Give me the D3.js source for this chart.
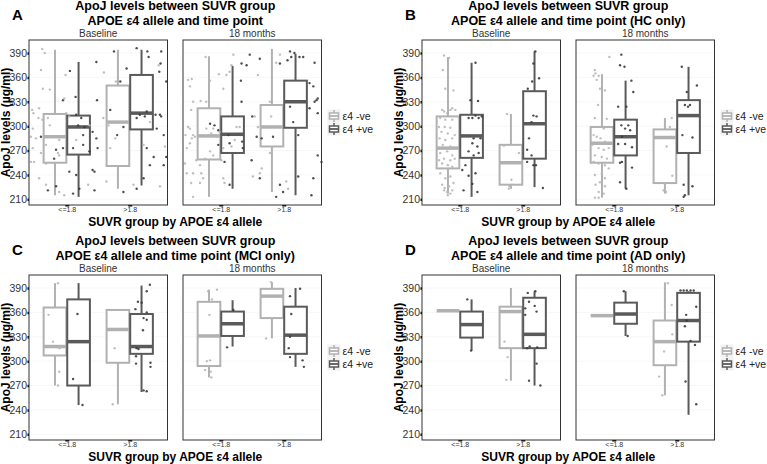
<!DOCTYPE html>
<html>
<head>
<meta charset="utf-8">
<script src="https://cdn.jsdelivr.net/npm/d3@7"></script>
<style>
  body { margin: 0; background: #fff; }
  text { font-family: "Liberation Sans", Arial, sans-serif; }
</style>
</head>
<body>
<svg id="chart" width="767" height="464"></svg>
<script>
var timepoints = ["Baseline", "18 months"];
var suvrGroups = ["<=1.8", ">1.8"];
var e4Groups = ["ε4 -ve", "ε4 +ve"];
var yTicks = [210, 240, 270, 300, 330, 360, 390];

// box stats [lower whisker, q1, median, q3, upper whisker]
// order: baseline <=1.8 -ve, +ve, >1.8 -ve, +ve, then 18 months same
var boxA = [
  [215, 255, 287, 315, 394], [213, 265, 299, 313, 379],
  [223, 251, 305, 350, 394], [227, 296, 316, 363, 394],
  [213, 259, 288, 322, 386], [223, 267, 290, 312, 374],
  [219, 275, 299, 326, 395], [215, 298, 330, 356, 389]
];
var boxB = [
  [217, 248, 273, 312, 385], [213, 261, 288, 314, 378],
  [223, 228, 255, 277, 315], [225, 260, 303, 343, 392],
  [212, 255, 279, 299, 364], [223, 264, 287, 308, 356],
  [217, 230, 286, 296, 310], [215, 267, 313, 332, 373]
];
var boxC = [
  [270, 307, 318, 366, 396], [246, 270, 324, 376, 396],
  [247, 298, 339, 363, 364], [262, 309, 318, 358, 393],
  [280, 294, 331, 373, 388], [318, 331, 346, 361, 375],
  [328, 353, 380, 389, 397], [293, 309, 332, 367, 390]
];
var boxD = [
  [362, 362, 362, 362, 362], [313, 329, 345, 361, 376],
  [276, 316, 361, 367, 390], [270, 316, 333, 378, 386],
  [356, 356, 356, 356, 356], [331, 346, 358, 372, 386],
  [258, 295, 324, 350, 397], [234, 324, 350, 384, 386]
];

// points: [suvr group, e4 group, jitter (category units), ApoJ]
var ptsA_base = [
  [0,0,-0.39,395],[0,0,-0.35,390],[0,0,-0.41,369],[0,0,-0.02,363],[0,1,0.05,368],[0,0,-0.38,346],
  [0,0,-0.27,345],[0,1,-0.06,332],[0,0,-0.04,334],[0,1,0.14,336],[0,1,0.47,379],[0,1,0.48,332],
  [1,0,-0.41,366],[1,1,-0.25,392],[1,1,-0.15,355],[1,0,-0.22,355],[1,1,-0.05,371],[1,1,0.11,396],
  [1,1,0.28,392],[1,1,0.3,385],[1,1,0.5,392],[1,1,0.49,377],[1,0,0.46,375],[1,1,0.47,367],
  [1,1,0.58,355],[0,0,-0.55,320],[0,0,-0.44,322],[0,0,-0.53,316],[0,0,-0.45,310],[0,0,-0.54,297],
  [0,0,-0.57,287],[0,0,-0.49,285],[0,1,-0.41,287],[0,0,-0.39,308],[0,0,-0.3,310],[0,0,-0.27,301],
  [0,0,-0.33,277],[0,0,-0.41,267],[0,0,-0.54,273],[0,0,-0.57,256],[0,0,-0.52,256],[0,0,-0.44,236],
  [0,0,-0.33,228],[0,1,-0.3,221],[0,1,-0.17,226],[0,0,-0.12,219],[0,0,-0.04,215],[0,1,0.1,217],
  [0,1,0.2,223],[0,1,0.15,240],[0,1,0.04,244],[0,1,0.41,246],[0,1,0.44,244],[0,1,0.44,221],
  [0,0,0.34,228],[0,1,0.47,285],[0,1,0.41,293],[0,1,0.49,273],[1,0,-0.37,232],[1,0,-0.23,285],
  [1,0,-0.31,273],[1,1,-0.2,289],[1,1,-0.1,299],[1,1,0.11,310],[1,1,0.16,314],[1,1,0.24,312],
  [1,1,0.27,318],[1,0,0.32,305],[1,1,0.41,314],[1,1,0.48,314],[1,1,0.5,312],[1,1,0.43,297],
  [1,1,0.54,289],[1,0,0.22,277],[1,1,0.27,273],[1,1,0.38,262],[1,1,0.32,252],[1,1,0.54,252],
  [1,1,0.58,262],[1,0,0.56,275],[1,0,0.06,228],[1,1,-0.1,219],[1,1,0.11,223],[1,1,0.22,236],
  [1,0,0.48,226],[0,0,-0.01,316],[0,0,0.04,312],[0,1,0.15,314],[0,1,0.23,310],[0,1,0.18,301],
  [0,1,0.28,299],[0,0,0.36,301],[0,1,0.26,289],[0,0,0.15,283],[0,1,0.1,273],[0,0,-0.12,283],
  [0,1,-0.06,273],[0,1,-0.17,271],[0,0,-0.14,267],[0,1,-0.2,260],[0,0,-0.12,264],[0,1,0.26,277],
  [0,1,0.36,269],[0,0,-0.33,254],[1,0,-0.34,301],[1,0,-0.42,310],[1,1,-0.31,320]
];
var ptsA_18m = [
  [0,0,-0.24,385],[0,0,0.2,388],[0,1,0.46,388],[1,1,-0.38,383],[0,0,0.17,375],[0,0,0.14,367],
  [0,1,0.33,377],[0,0,0.09,363],[0,0,-0.03,364],[0,1,0.41,375],[1,0,-0.41,363],[1,1,-0.06,377],
  [1,0,-0.12,378],[1,1,0.1,392],[1,1,0.12,385],[1,1,0.06,381],[1,1,0.17,390],[1,1,0.25,385],
  [1,1,0.31,385],[1,1,0.49,378],[1,0,-0.06,388],[0,0,-0.52,357],[0,0,-0.46,358],[0,0,-0.49,349],
  [0,0,-0.17,356],[0,0,0.04,346],[0,1,0.32,356],[1,1,0.41,353],[1,1,0.47,349],[1,1,0.54,334],
  [1,1,0.52,332],[1,1,0.49,330],[1,1,0.41,322],[1,1,0.54,316],[1,1,0.1,324],[0,1,0.33,330],
  [0,0,-0.44,330],[0,0,-0.32,331],[0,0,-0.23,330],[0,0,-0.47,320],[1,0,-0.22,330],[1,0,-0.46,312],
  [1,1,-0.5,312],[0,0,-0.52,299],[0,0,-0.49,297],[0,0,-0.56,289],[0,0,-0.44,289],[0,0,-0.41,287],
  [0,0,-0.46,285],[0,0,-0.49,279],[0,0,-0.54,273],[0,1,-0.17,303],[0,1,-0.1,301],[0,0,-0.12,297],
  [0,0,-0.23,297],[0,1,-0.04,295],[0,0,-0.02,293],[0,0,-0.15,291],[0,0,-0.07,287],[0,0,0.25,299],
  [0,0,0.3,299],[0,1,0.12,289],[0,0,0.22,283],[0,1,0.14,279],[0,1,0.34,281],[0,1,0.35,273],
  [0,0,0.17,275],[0,1,-0.04,277],[0,0,0.04,273],[0,0,-0.17,269],[0,1,0.06,256],[0,0,0.01,258],
  [0,0,-0.12,264],[0,0,-0.25,260],[0,0,-0.39,258],[0,0,-0.33,252],[0,0,-0.57,254],[1,1,-0.35,285],
  [1,1,-0.43,287],[1,0,-0.41,299],[1,1,-0.17,287],[1,0,-0.2,312],[1,1,0.15,305],[1,1,0.23,289],
  [1,1,0.54,264],[1,1,0.6,256],[0,1,0.49,258],[1,0,-0.35,248],[1,0,-0.22,267],[1,0,-0.38,242],
  [0,0,-0.54,242],[0,0,-0.44,242],[0,0,-0.31,242],[0,0,-0.28,236],[0,0,0.04,236],[0,0,0.06,230],
  [1,0,-0.49,238],[1,1,-0.38,236],[0,1,0.14,228],[0,0,-0.47,230],[0,0,-0.33,230],[0,0,-0.44,213],
  [1,1,-0.12,213],[1,1,-0.06,228],[1,1,-0.01,219],[1,0,0.07,223],[1,0,0.04,232],[1,1,0.23,238],
  [1,1,0.47,236],[1,1,0.44,215]
];
var ptsB_base = [
  [0,0,-0.25,387],[0,0,-0.17,384],[0,0,-0.27,369],[0,0,-0.23,346],[0,0,-0.1,344],[0,0,-0.28,320],
  [0,0,-0.25,318],[0,0,-0.15,320],[0,0,-0.12,322],[0,0,-0.07,320],[0,0,-0.2,316],[0,0,-0.31,310],
  [0,0,-0.23,308],[0,0,-0.12,308],[0,0,-0.33,299],[0,0,-0.24,299],[0,0,-0.15,298],[0,0,-0.29,293],
  [0,0,-0.19,291],[0,0,-0.08,289],[0,0,-0.32,285],[0,0,-0.23,283],[0,0,-0.12,285],[0,0,-0.27,277],
  [0,0,-0.15,275],[0,0,-0.07,273],[0,0,-0.31,267],[0,0,-0.2,269],[0,0,-0.12,264],[0,0,-0.33,258],
  [0,0,-0.25,260],[0,0,-0.15,258],[0,0,-0.08,260],[0,0,-0.28,254],[0,0,-0.19,252],[0,0,-0.12,250],
  [0,0,-0.31,242],[0,0,-0.23,236],[0,0,-0.15,238],[0,0,-0.1,230],[0,0,-0.28,228],[0,0,-0.24,224],
  [0,0,-0.17,226],[0,0,-0.2,219],[0,0,-0.15,217],[0,0,-0.25,221],[0,0,-0.12,221],[0,0,-0.19,215],
  [0,1,0.25,378],[0,1,0.17,332],[0,1,0.29,331],[0,1,0.25,313],[0,1,0.14,310],[0,1,0.2,310],
  [0,1,0.3,310],[0,1,0.35,312],[0,1,0.22,285],[0,1,0.33,285],[0,1,0.2,279],[0,1,0.28,275],
  [0,1,0.14,269],[0,1,0.3,267],[0,1,0.22,264],[0,1,0.09,252],[0,1,0.04,246],[0,1,0.25,242],
  [0,1,0.14,239],[0,1,0.2,229],[0,1,0.06,221],[0,1,0.28,219],
  [1,0,-0.25,315],[1,0,-0.3,276],[1,0,-0.06,267],[1,0,-0.18,234],[1,0,-0.21,226],[1,0,-0.22,223],
  [1,1,0.2,392],[1,1,0.17,377],[1,1,0.15,355],[1,1,0.26,359],[1,1,0.08,346],[1,1,0.17,313],
  [1,1,0.22,312],[1,1,0.14,305],[1,1,0.1,285],[1,1,0.07,271],[1,1,0.14,264],[1,1,0.07,256],
  [1,1,0.17,252],[1,1,0.21,252],[1,1,0.32,224]
];
var ptsB_18m = [
  [0,0,-0.07,385],[0,0,-0.3,369],[0,0,-0.29,365],[0,0,-0.32,362],[0,0,-0.24,362],[0,0,-0.27,357],
  [0,0,-0.22,346],[0,0,-0.14,344],[0,0,-0.25,326],[0,0,-0.3,310],[0,0,-0.11,309],[0,0,-0.16,297],
  [0,0,-0.32,289],[0,0,-0.27,287],[0,0,-0.21,285],[0,0,-0.14,281],[0,0,-0.34,277],[0,0,-0.24,273],
  [0,0,-0.16,271],[0,0,-0.08,273],[0,0,-0.3,264],[0,0,-0.19,262],[0,0,-0.11,260],[0,0,-0.32,256],
  [0,0,-0.24,254],[0,0,-0.14,252],[0,0,-0.08,248],[0,0,-0.19,242],[0,0,-0.3,240],[0,0,-0.14,236],
  [0,0,-0.22,231],[0,0,-0.29,228],[0,0,-0.14,226],[0,0,-0.24,219],[0,0,-0.3,212],[0,0,-0.24,212],
  [0,0,-0.16,217],
  [0,1,0.12,388],[0,1,0.1,375],[0,1,0.17,373],[0,1,0.28,356],[0,1,0.31,342],[0,1,0.07,324],
  [0,1,0.2,324],[0,1,0.12,301],[0,1,0.23,301],[0,1,0.18,297],[0,1,0.26,295],[0,1,0.13,287],
  [0,1,0.07,278],[0,1,0.18,278],[0,1,0.29,274],[0,1,0.13,256],[0,1,0.1,255],[0,1,0.29,249],
  [0,1,0.1,231],[0,1,0.2,223],
  [1,0,-0.08,310],[1,0,-0.11,299],[1,0,-0.16,275],[1,0,-0.07,239],[1,0,-0.21,221],[1,0,-0.17,219],
  [1,1,0.08,373],[1,1,0.32,350],[1,1,0.16,342],[1,1,0.13,326],[1,1,0.18,324],[1,1,0.21,326],
  [1,1,0.09,289],[1,1,0.25,286],[1,1,0.11,228],[1,1,0.13,215],[1,1,0.11,213],[1,1,0.25,226]
];
var ptsC_base = [
  [0,0,-0.14,396],[0,0,-0.29,357],[0,0,-0.22,324],[0,0,-0.13,317],[0,0,-0.11,316],[0,0,-0.12,287],
  [0,0,-0.14,270],[0,1,0.17,358],[0,1,0.1,278],[0,1,0.25,246],[1,0,-0.24,316],[1,0,-0.27,247],
  [1,1,0.32,394],[1,1,0.27,386],[1,1,0.13,373],[1,1,0.19,372],[1,1,0.09,364],[1,1,0.27,360],
  [1,1,0.22,353],[1,1,0.27,351],[1,1,0.21,338],[1,1,0.11,316],[1,1,0.14,315],[1,1,0.1,306],
  [1,1,0.1,297],[1,1,0.33,298],[1,1,0.33,293],[1,1,0.22,264],[1,1,0.27,263]
];
var ptsC_18m = [
  [0,0,-0.2,386],[0,0,-0.06,388],[0,0,-0.14,376],[0,0,-0.18,357],[0,0,-0.17,301],[0,0,-0.22,300],
  [0,0,-0.25,289],[0,0,-0.16,287],[0,0,-0.15,280],[0,1,0.1,317],[0,1,0.2,363],
  [1,0,-0.2,397],[1,0,-0.28,328],
  [1,1,0.1,380],[1,1,0.26,389],[1,1,0.12,358],[1,1,0.1,330],[1,1,0.08,316],[1,1,0.1,305],
  [1,1,0.3,301],[1,1,0.32,293]
];
var ptsD_base = [
  [0,1,0.12,376],[0,1,0.18,313],
  [1,0,-0.29,324],[1,0,-0.12,361],[1,0,-0.24,305],[1,0,-0.26,277],
  [1,1,0.08,384],[1,1,0.2,386],[1,1,0.1,373],[1,1,0.19,368],[1,1,0.04,365],[1,1,0.22,361],
  [1,1,0.04,357],[1,1,0.11,318],[1,1,0.23,317],[1,1,0.07,316],[1,1,0.22,297],[1,1,0.1,276],
  [1,1,0.28,270]
];
var ptsD_18m = [
  [0,1,0.16,386],[0,1,0.22,331],
  [1,0,-0.14,396],[1,0,-0.08,369],[1,0,-0.07,333],[1,0,-0.2,312],[1,0,-0.28,281],[1,0,-0.23,258],
  [1,1,0.06,387],[1,1,0.11,387],[1,1,0.16,387],[1,1,0.22,387],[1,1,0.27,387],[1,1,0.31,367],
  [1,1,0.15,357],[1,1,0.13,343],[1,1,0.16,350],[1,1,0.22,325],[1,1,0.29,320],[1,1,0.14,275],
  [1,1,0.31,247]
];

var boxColors = ["#b1b1b1", "#5a5a5a"];
var dotColors = ["#b8b8b8", "#3a3a3a"];

var blocks = [
  { letter: "A", sub: "", left: 29, top: 40, box: boxA, pts: [ptsA_base, ptsA_18m] },
  { letter: "B", sub: " (HC only)", left: 422, top: 40, box: boxB, pts: [ptsB_base, ptsB_18m] },
  { letter: "C", sub: " (MCI only)", left: 29, top: 275, box: boxC, pts: [ptsC_base, ptsC_18m] },
  { letter: "D", sub: " (AD only)", left: 422, top: 275, box: boxD, pts: [ptsD_base, ptsD_18m] }
];

var pw = 138.5, ph = 165, gap = 15.5;
var dodge = 0.1875, boxW = 0.36;

var svg = d3.select("#chart");
svg.append("rect").attr("width", 767).attr("height", 464).attr("fill", "#fff");

blocks.forEach(function(b) {
  var g = svg.append("g");
  var y = d3.scaleLinear().domain([203, 406]).range([b.top + ph, b.top]);
  var mid = b.left + pw + gap / 2;

  // titles
  g.append("text").attr("x", b.left - 17).attr("y", b.top - 20)
    .attr("font-size", 15).attr("font-weight", "bold").text(b.letter);
  g.append("text").attr("x", mid).attr("y", b.top - 30).attr("text-anchor", "middle")
    .attr("font-size", 12.5).attr("font-weight", "bold").text("ApoJ levels between SUVR group");
  g.append("text").attr("x", mid).attr("y", b.top - 15.5).attr("text-anchor", "middle")
    .attr("font-size", 12.5).attr("font-weight", "bold").text("APOE ε4 allele and time point" + b.sub);

  // axis titles
  g.append("text").attr("x", mid).attr("y", b.top + ph + 21).attr("text-anchor", "middle")
    .attr("font-size", 12).attr("font-weight", "bold").text("SUVR group by APOE ε4 allele");
  g.append("text").attr("transform", "translate(" + (b.left - 19.5) + "," + (b.top + ph / 2) + ") rotate(-90)")
    .attr("text-anchor", "middle").attr("font-size", 12).attr("font-weight", "bold")
    .text("ApoJ levels (µg/ml)");

  // y axis
  var ya = g.append("g").attr("transform", "translate(" + b.left + ",0)")
    .call(d3.axisLeft(y).tickValues(yTicks).tickSize(1.5).tickPadding(0.5));
  ya.select(".domain").remove();
  ya.selectAll("line").attr("stroke", "#000").attr("stroke-width", 2.5);
  ya.selectAll("text").attr("font-size", 10.5).attr("fill", "#333")
    .attr("font-family", "Liberation Sans, Arial, sans-serif");

  timepoints.forEach(function(tp, ti) {
    var left = b.left + ti * (pw + gap);
    var x = d3.scalePoint().domain(suvrGroups).range([left, left + pw]).padding(0.6);
    var u = x.step();
    var pg = g.append("g");

    pg.append("rect").attr("x", left).attr("y", b.top).attr("width", pw).attr("height", ph)
      .attr("fill", "#fff");
    pg.selectAll(".grid").data(yTicks).enter().append("line")
      .attr("x1", left).attr("x2", left + pw)
      .attr("y1", function(d) { return y(d); }).attr("y2", function(d) { return y(d); })
      .attr("stroke", "#f1f1f1").attr("stroke-width", 0.6);

    // strip label
    pg.append("text").attr("x", left + pw / 2).attr("y", b.top - 3).attr("text-anchor", "middle")
      .attr("font-size", 10).attr("fill", "#333").text(tp);

    // x axis
    var xa = pg.append("g").attr("transform", "translate(0," + (b.top + ph) + ")")
      .call(d3.axisBottom(x).tickSize(1.5).tickPadding(1));
    xa.select(".domain").remove();
    xa.selectAll("line").attr("stroke", "#000").attr("stroke-width", 4);
    xa.selectAll("text").attr("font-size", 7).attr("fill", "#333")
      .attr("font-family", "Liberation Sans, Arial, sans-serif");

    // boxes
    var stats = b.box.slice(ti * 4, ti * 4 + 4).map(function(s, i) {
      return { s: s, cat: Math.floor(i / 2), e4: i % 2 };
    });
    var bg = pg.selectAll(".bx").data(stats).enter().append("g");
    function cx(d) { return x(suvrGroups[d.cat]) + (d.e4 ? dodge : -dodge) * u; }
    bg.append("line").attr("x1", cx).attr("x2", cx)
      .attr("y1", function(d) { return y(d.s[0]); }).attr("y2", function(d) { return y(d.s[1]); })
      .attr("stroke", function(d) { return boxColors[d.e4]; }).attr("stroke-width", 2);
    bg.append("line").attr("x1", cx).attr("x2", cx)
      .attr("y1", function(d) { return y(d.s[3]); }).attr("y2", function(d) { return y(d.s[4]); })
      .attr("stroke", function(d) { return boxColors[d.e4]; }).attr("stroke-width", 2);
    bg.append("rect")
      .attr("x", function(d) { return cx(d) - boxW * u / 2; }).attr("width", boxW * u)
      .attr("y", function(d) { return y(d.s[3]); })
      .attr("height", function(d) { return y(d.s[1]) - y(d.s[3]); })
      .attr("fill", "#fff").attr("stroke", function(d) { return boxColors[d.e4]; })
      .attr("stroke-width", 2);
    bg.append("line")
      .attr("x1", function(d) { return cx(d) - boxW * u / 2; })
      .attr("x2", function(d) { return cx(d) + boxW * u / 2; })
      .attr("y1", function(d) { return y(d.s[2]); }).attr("y2", function(d) { return y(d.s[2]); })
      .attr("stroke", function(d) { return boxColors[d.e4]; }).attr("stroke-width", 3.5);

    // jittered points
    pg.selectAll(".pt").data(b.pts[ti]).enter().append("circle")
      .attr("cx", function(d) { return x(suvrGroups[d[0]]) + d[2] * u; })
      .attr("cy", function(d) { return y(d[3]); })
      .attr("r", 1.2)
      .attr("fill", function(d) { return dotColors[d[1]]; })
      .attr("opacity", 0.9);

    pg.append("rect").attr("x", left).attr("y", b.top).attr("width", pw).attr("height", ph)
      .attr("fill", "none").attr("stroke", "#333").attr("stroke-width", 1);
  });

  // legend
  var lx = b.left + 2 * pw + gap + 6, ly = b.top + ph / 2 - 13;
  var lg = g.selectAll(".lg").data(e4Groups).enter().append("g")
    .attr("transform", function(d, i) { return "translate(" + lx + "," + (ly + i * 13) + ")"; });
  lg.append("rect").attr("width", 13).attr("height", 13).attr("fill", "#f2f2f2");
  lg.append("line").attr("x1", 6.5).attr("x2", 6.5).attr("y1", 0.5).attr("y2", 12.5)
    .attr("stroke", function(d, i) { return boxColors[i]; }).attr("stroke-width", 1.5);
  lg.append("rect").attr("x", 2).attr("y", 3.5).attr("width", 9).attr("height", 6)
    .attr("fill", "#fff").attr("stroke", function(d, i) { return boxColors[i]; }).attr("stroke-width", 1.5);
  lg.append("line").attr("x1", 2).attr("x2", 11).attr("y1", 6.5).attr("y2", 6.5)
    .attr("stroke", function(d, i) { return boxColors[i]; }).attr("stroke-width", 1.8);
  lg.append("text").attr("x", 15).attr("y", 10.5).attr("font-size", 10.5).attr("fill", "#222")
    .text(function(d) { return d; });
});
</script>
</body>
</html>
